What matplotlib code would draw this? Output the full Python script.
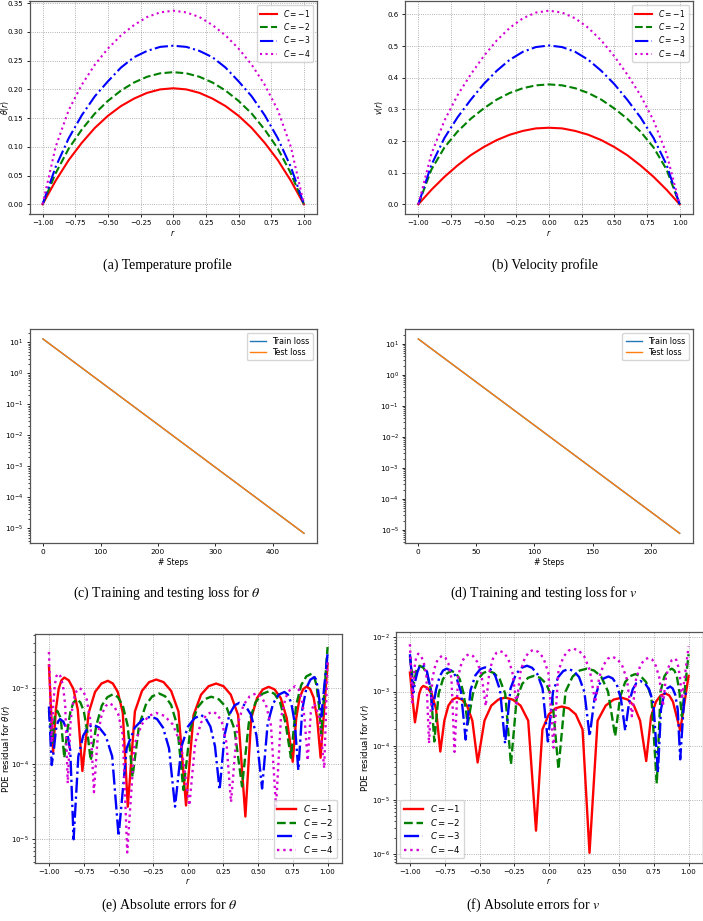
import matplotlib
matplotlib.use("Agg")
import matplotlib.pyplot as plt

W, H = 703, 921

# ---- (a)/(b) profiles, sampled at r = -1.0 ... 1.0 step 0.1
r_grid = [-1.0, -0.9, -0.8, -0.7, -0.6, -0.5, -0.4, -0.3, -0.2, -0.1, 0.0,
          0.1, 0.2, 0.3, 0.4, 0.5, 0.6, 0.7, 0.8, 0.9, 1.0]

theta_c1 = [0.0, 0.041, 0.077, 0.107, 0.133, 0.154, 0.171, 0.184, 0.194, 0.200, 0.202,
            0.200, 0.194, 0.184, 0.171, 0.154, 0.133, 0.107, 0.077, 0.041, 0.0]
theta_c2 = [0.0, 0.054, 0.097, 0.130, 0.158, 0.180, 0.198, 0.212, 0.222, 0.228, 0.230,
            0.228, 0.222, 0.212, 0.198, 0.180, 0.158, 0.130, 0.097, 0.054, 0.0]
theta_c3 = [0.0, 0.065, 0.115, 0.155, 0.188, 0.214, 0.238, 0.256, 0.267, 0.274, 0.276,
            0.274, 0.267, 0.256, 0.238, 0.214, 0.188, 0.155, 0.115, 0.065, 0.0]
theta_c4 = [0.0, 0.100, 0.164, 0.208, 0.243, 0.271, 0.294, 0.312, 0.326, 0.334, 0.337,
            0.334, 0.326, 0.312, 0.294, 0.271, 0.243, 0.208, 0.164, 0.100, 0.0]

vel_c1 = [0.0, 0.046, 0.087, 0.123, 0.155, 0.181, 0.203, 0.220, 0.232, 0.240, 0.242,
          0.240, 0.232, 0.220, 0.203, 0.181, 0.155, 0.123, 0.087, 0.046, 0.0]
vel_c2 = [0.0, 0.110, 0.180, 0.230, 0.270, 0.303, 0.331, 0.352, 0.367, 0.376, 0.379,
          0.376, 0.367, 0.352, 0.331, 0.303, 0.270, 0.230, 0.180, 0.110, 0.0]
vel_c3 = [0.0, 0.125, 0.210, 0.275, 0.330, 0.380, 0.422, 0.457, 0.482, 0.497, 0.502,
          0.497, 0.482, 0.457, 0.422, 0.380, 0.330, 0.275, 0.210, 0.125, 0.0]
vel_c4 = [0.0, 0.160, 0.265, 0.345, 0.410, 0.468, 0.518, 0.558, 0.588, 0.606, 0.612,
          0.606, 0.588, 0.558, 0.518, 0.468, 0.410, 0.345, 0.265, 0.160, 0.0]

# ---- (c)/(d) losses
steps_theta = [0, 100, 200, 300, 400, 454]
train_theta = [12.9, 0.537, 0.0223, 9.24e-4, 3.84e-5, 6.9e-6]
test_theta = [12.9, 0.537, 0.0223, 9.24e-4, 3.84e-5, 6.9e-6]

steps_vel = [0, 50, 100, 150, 200, 225]
train_vel = [14.5, 0.586, 0.0237, 9.6e-4, 3.88e-5, 7.8e-6]
test_vel = [14.5, 0.586, 0.0237, 9.6e-4, 3.88e-5, 7.8e-6]

# ---- (e) PDE residual for theta, (r, value)
res_theta_c1 = [
    (-1.0, 2.0e-3), (-0.97, 1.4e-4),
    (-0.95, 5.2e-4), (-0.93, 9.8e-4), (-0.91, 1.27e-3), (-0.89, 1.38e-3),
    (-0.858, 1.27e-3), (-0.825, 9.8e-4), (-0.793, 5.2e-4), (-0.76, 8e-5),
    (-0.714, 4.75e-4), (-0.669, 8.9e-4), (-0.623, 1.15e-3), (-0.577, 1.25e-3),
    (-0.541, 1.15e-3), (-0.506, 8.9e-4), (-0.47, 4.75e-4), (-0.434, 2.7e-5),
    (-0.383, 4.9e-4), (-0.332, 9.2e-4), (-0.281, 1.2e-3), (-0.23, 1.3e-3),
    (-0.177, 1.2e-3), (-0.123, 9.2e-4), (-0.07, 4.9e-4), (-0.016, 2.8e-5),
    (0.038, 4.4e-4), (0.092, 8.2e-4), (0.146, 1.06e-3), (0.20, 1.15e-3),
    (0.253, 1.06e-3), (0.305, 8.2e-4), (0.358, 4.4e-4), (0.41, 2.0e-5),
    (0.452, 4.0e-4), (0.494, 7.4e-4), (0.535, 9.6e-4), (0.577, 1.04e-3),
    (0.62, 9.6e-4), (0.664, 7.4e-4), (0.707, 4.0e-4), (0.75, 1.06e-4),
    (0.775, 4.0e-4), (0.80, 7.5e-4), (0.825, 9.7e-4), (0.85, 1.05e-3),
    (0.875, 9.7e-4), (0.90, 7.5e-4), (0.925, 4.0e-4), (0.95, 1.2e-4),
    (1.0, 2.1e-3)]
res_theta_c2 = [
    (-1.0, 5e-4), (-0.976, 1.9e-4), (-0.958, 4.2e-4), (-0.94, 5.0e-4), (-0.915, 4.0e-4),
    (-0.89, 1.2e-4),
    (-0.868, 2.7e-4), (-0.845, 5.0e-4), (-0.823, 6.5e-4), (-0.80, 7.1e-4),
    (-0.775, 6.5e-4), (-0.75, 5.0e-4), (-0.725, 2.7e-4), (-0.70, 1.1e-4),
    (-0.66, 3.2e-4), (-0.62, 5.9e-4), (-0.58, 7.6e-4), (-0.54, 8.3e-4),
    (-0.505, 7.6e-4), (-0.47, 5.9e-4), (-0.435, 3.2e-4), (-0.40, 6.7e-5),
    (-0.353, 3.2e-4), (-0.305, 6.0e-4), (-0.258, 7.8e-4), (-0.21, 8.5e-4),
    (-0.166, 7.8e-4), (-0.123, 6.0e-4), (-0.079, 3.2e-4), (-0.035, 4.5e-5),
    (0.015, 2.9e-4), (0.065, 5.5e-4), (0.115, 7.1e-4), (0.165, 7.7e-4),
    (0.22, 7.1e-4), (0.276, 5.5e-4), (0.331, 2.9e-4), (0.386, 5e-5),
    (0.435, 3.5e-4), (0.483, 6.5e-4), (0.532, 8.4e-4), (0.58, 9.1e-4),
    (0.619, 8.4e-4), (0.659, 6.5e-4), (0.698, 3.5e-4), (0.737, 1.2e-4),
    (0.774, 5.9e-4), (0.811, 1.1e-3), (0.848, 1.43e-3), (0.885, 1.55e-3),
    (0.903, 1.43e-3), (0.92, 1.1e-3), (0.938, 5.9e-4), (0.955, 2.5e-4),
    (1.0, 3.5e-3)]
res_theta_c3 = [
    (-1.0, 5.7e-4), (-0.98, 9.6e-5),
    (-0.965, 1.5e-4), (-0.95, 2.8e-4), (-0.935, 3.6e-4), (-0.92, 3.9e-4),
    (-0.896, 3.6e-4), (-0.872, 2.8e-4), (-0.847, 1.5e-4), (-0.823, 1.0e-5),
    (-0.789, 1.25e-4), (-0.754, 2.35e-4), (-0.72, 3.0e-4), (-0.685, 3.3e-4),
    (-0.639, 3.0e-4), (-0.593, 2.35e-4), (-0.546, 1.25e-4), (-0.50, 1.1e-5),
    (-0.442, 1.6e-4), (-0.384, 3.0e-4), (-0.325, 3.9e-4), (-0.267, 4.2e-4),
    (-0.224, 3.9e-4), (-0.181, 3.0e-4), (-0.138, 1.6e-4), (-0.095, 2.7e-5),
    (-0.048, 1.7e-4), (-0.002, 3.1e-4), (0.045, 4.0e-4), (0.092, 4.4e-4),
    (0.125, 4.0e-4), (0.159, 3.1e-4), (0.192, 1.7e-4), (0.225, 4.5e-5),
    (0.261, 2.4e-4), (0.296, 4.5e-4), (0.332, 5.9e-4), (0.367, 6.4e-4),
    (0.408, 5.9e-4), (0.449, 4.5e-4), (0.489, 2.4e-4), (0.53, 4.7e-5),
    (0.57, 3.4e-4), (0.61, 6.3e-4), (0.65, 8.2e-4), (0.69, 8.9e-4),
    (0.715, 8.2e-4), (0.74, 6.3e-4), (0.765, 3.4e-4), (0.79, 8.2e-5),
    (0.819, 5.3e-4), (0.848, 1.0e-3), (0.876, 1.29e-3), (0.905, 1.4e-3),
    (0.918, 1.3e-3), (0.93, 1.0e-3), (0.943, 6.5e-4), (0.955, 4.2e-4),
    (1.0, 2.9e-3)]
res_theta_c4 = [
    (-1.0, 3.0e-3), (-0.98, 1.9e-4),
    (-0.969, 5.9e-4), (-0.958, 1.1e-3), (-0.946, 1.44e-3), (-0.935, 1.56e-3),
    (-0.918, 1.44e-3), (-0.90, 1.1e-3), (-0.883, 5.9e-4), (-0.865, 5.5e-5),
    (-0.844, 3.8e-4), (-0.823, 7.1e-4), (-0.801, 9.2e-4), (-0.78, 1.0e-3),
    (-0.754, 9.2e-4), (-0.729, 7.1e-4), (-0.703, 3.8e-4), (-0.677, 4.2e-5),
    (-0.649, 2.4e-4), (-0.621, 4.5e-4), (-0.593, 5.8e-4), (-0.565, 6.3e-4),
    (-0.533, 5.8e-4), (-0.502, 4.5e-4), (-0.47, 2.4e-4), (-0.438, 6.7e-6),
    (-0.386, 1.8e-4), (-0.334, 3.3e-4), (-0.282, 4.3e-4), (-0.23, 4.7e-4),
    (-0.171, 4.3e-4), (-0.111, 3.3e-4), (-0.052, 1.8e-4), (0.008, 2.8e-5),
    (0.05, 1.9e-4), (0.092, 3.5e-4), (0.134, 4.5e-4), (0.176, 4.9e-4),
    (0.209, 4.5e-4), (0.242, 3.5e-4), (0.274, 1.9e-4), (0.307, 3.1e-5),
    (0.352, 3.2e-4), (0.397, 6.0e-4), (0.441, 7.8e-4), (0.486, 8.5e-4),
    (0.522, 7.8e-4), (0.558, 6.0e-4), (0.594, 3.2e-4), (0.63, 2.7e-5),
    (0.665, 4.0e-4), (0.699, 7.5e-4), (0.734, 9.8e-4), (0.768, 1.06e-3),
    (0.79, 9.8e-4), (0.813, 7.5e-4), (0.835, 4.0e-4), (0.857, 1.1e-4),
    (0.88, 4.8e-4), (0.905, 6.3e-4), (0.94, 4.2e-4), (0.976, 8.7e-5),
    (1.0, 2.3e-3)]

# ---- (f) PDE residual for v
res_vel_c1 = [
    (-1.0, 2.24e-3), (-0.964, 2.7e-4),
    (-0.949, 4.8e-4), (-0.934, 9.0e-4), (-0.919, 1.17e-3), (-0.904, 1.27e-3),
    (-0.874, 1.17e-3), (-0.843, 9.0e-4), (-0.813, 4.8e-4), (-0.782, 7.8e-5),
    (-0.753, 2.9e-4), (-0.724, 5.5e-4), (-0.694, 7.1e-4), (-0.665, 7.75e-4),
    (-0.627, 7.1e-4), (-0.59, 5.5e-4), (-0.552, 2.9e-4), (-0.514, 4.9e-5),
    (-0.465, 2.9e-4), (-0.416, 5.5e-4), (-0.366, 7.1e-4), (-0.317, 7.75e-4),
    (-0.262, 7.1e-4), (-0.206, 5.5e-4), (-0.151, 2.9e-4), (-0.095, 2.7e-6),
    (-0.049, 2.0e-4), (-0.003, 3.8e-4), (0.044, 4.9e-4), (0.09, 5.3e-4),
    (0.14, 4.9e-4), (0.19, 3.8e-4), (0.239, 2.0e-4), (0.289, 1.05e-6),
    (0.347, 2.9e-4), (0.405, 5.5e-4), (0.462, 7.1e-4), (0.52, 7.7e-4),
    (0.564, 7.1e-4), (0.608, 5.5e-4), (0.652, 2.9e-4), (0.696, 5.2e-5),
    (0.731, 3.5e-4), (0.766, 6.5e-4), (0.80, 8.5e-4), (0.835, 9.2e-4),
    (0.861, 8.5e-4), (0.888, 6.5e-4), (0.914, 3.5e-4), (0.94, 1.9e-4),
    (1.0, 1.95e-3)]
res_vel_c2 = [
    (-1.0, 4.5e-3), (-0.974, 1.27e-3), (-0.952, 2.6e-3), (-0.93, 3.0e-3),
    (-0.904, 2.76e-3), (-0.878, 2.1e-3), (-0.851, 1.15e-3), (-0.825, 1.2e-4),
    (-0.794, 9.1e-4), (-0.763, 1.7e-3), (-0.731, 2.2e-3), (-0.70, 2.4e-3),
    (-0.671, 2.2e-3), (-0.643, 1.7e-3), (-0.614, 9.1e-4), (-0.585, 2.5e-4),
    (-0.548, 9.1e-4), (-0.511, 1.7e-3), (-0.474, 2.2e-3), (-0.437, 2.4e-3),
    (-0.397, 2.2e-3), (-0.356, 1.7e-3), (-0.316, 9.1e-4), (-0.275, 4.5e-5),
    (-0.234, 7.4e-4), (-0.193, 1.4e-3), (-0.151, 1.8e-3), (-0.11, 1.95e-3),
    (-0.066, 1.8e-3), (-0.022, 1.4e-3), (0.022, 7.4e-4), (0.066, 3.7e-5),
    (0.117, 1.0e-3), (0.168, 1.9e-3), (0.219, 2.45e-3), (0.27, 2.65e-3),
    (0.321, 2.45e-3), (0.372, 1.9e-3), (0.422, 1.0e-3), (0.473, 1.5e-4),
    (0.509, 8.0e-4), (0.545, 1.5e-3), (0.581, 1.93e-3), (0.617, 2.1e-3),
    (0.656, 1.93e-3), (0.695, 1.5e-3), (0.733, 8.0e-4), (0.772, 2.0e-5),
    (0.799, 1.0e-3), (0.826, 1.9e-3), (0.853, 2.45e-3), (0.88, 2.65e-3),
    (0.898, 2.45e-3), (0.916, 1.9e-3), (0.934, 1.0e-3), (0.952, 3.5e-4),
    (1.0, 4.9e-3)]
res_vel_c3 = [
    (-1.0, 4.9e-3), (-0.976, 9.6e-4),
    (-0.961, 1.6e-3), (-0.946, 2.3e-3), (-0.931, 2.9e-3), (-0.916, 3.1e-3),
    (-0.896, 2.9e-3), (-0.877, 2.3e-3), (-0.857, 1.3e-3), (-0.837, 4.7e-4),
    (-0.812, 1.1e-3), (-0.787, 1.9e-3), (-0.762, 2.45e-3), (-0.737, 2.65e-3),
    (-0.703, 2.45e-3), (-0.669, 1.9e-3), (-0.634, 1.0e-3), (-0.60, 1.3e-4),
    (-0.565, 1.06e-3), (-0.53, 2.0e-3), (-0.495, 2.6e-3), (-0.46, 2.8e-3),
    (-0.424, 2.6e-3), (-0.389, 2.0e-3), (-0.353, 1.06e-3), (-0.317, 1.1e-4),
    (-0.278, 1.14e-3), (-0.239, 2.1e-3), (-0.199, 2.75e-3), (-0.16, 3.0e-3),
    (-0.123, 2.75e-3), (-0.085, 2.1e-3), (-0.048, 1.14e-3), (-0.01, 1.2e-4),
    (0.027, 9.9e-4), (0.064, 1.85e-3), (0.101, 2.4e-3), (0.138, 2.6e-3),
    (0.176, 2.4e-3), (0.214, 1.85e-3), (0.252, 9.9e-4), (0.29, 1.5e-4),
    (0.324, 7.2e-4), (0.358, 1.35e-3), (0.391, 1.75e-3), (0.425, 1.9e-3),
    (0.455, 1.75e-3), (0.485, 1.35e-3), (0.515, 7.2e-4), (0.545, 1.9e-4),
    (0.572, 6.0e-4), (0.599, 1.1e-3), (0.626, 1.44e-3), (0.653, 1.57e-3),
    (0.685, 1.44e-3), (0.717, 1.1e-3), (0.748, 6.0e-4), (0.78, 3.2e-5),
    (0.802, 4.7e-4), (0.824, 8.8e-4), (0.846, 1.14e-3), (0.868, 1.24e-3),
    (0.886, 1.14e-3), (0.904, 8.8e-4), (0.922, 4.7e-4), (0.94, 5.6e-5),
    (0.97, 8.5e-4), (1.0, 1.07e-3)]
res_vel_c4 = [
    (-1.0, 7.5e-3), (-0.983, 6.3e-4),
    (-0.972, 1.9e-3), (-0.962, 3.55e-3), (-0.951, 4.6e-3), (-0.94, 5.0e-3),
    (-0.921, 4.6e-3), (-0.902, 3.55e-3), (-0.882, 1.9e-3), (-0.863, 1.1e-4),
    (-0.839, 1.75e-3), (-0.815, 3.3e-3), (-0.791, 4.2e-3), (-0.767, 4.6e-3),
    (-0.745, 4.2e-3), (-0.724, 3.3e-3), (-0.702, 1.75e-3), (-0.68, 7.7e-5),
    (-0.654, 1.9e-3), (-0.628, 3.5e-3), (-0.602, 4.5e-3), (-0.576, 4.9e-3),
    (-0.546, 4.5e-3), (-0.516, 3.5e-3), (-0.486, 2.0e-3), (-0.456, 5.4e-4),
    (-0.43, 2.3e-3), (-0.405, 4.0e-3), (-0.379, 5.2e-3), (-0.353, 5.6e-3),
    (-0.324, 5.2e-3), (-0.294, 4.0e-3), (-0.265, 2.3e-3), (-0.235, 6.0e-4),
    (-0.205, 2.4e-3), (-0.175, 4.2e-3), (-0.144, 5.4e-3), (-0.114, 5.9e-3),
    (-0.078, 5.4e-3), (-0.042, 4.2e-3), (-0.006, 2.2e-3), (0.03, 9.2e-5),
    (0.066, 2.4e-3), (0.102, 4.4e-3), (0.138, 5.7e-3), (0.174, 6.2e-3),
    (0.213, 5.7e-3), (0.252, 4.4e-3), (0.291, 2.5e-3), (0.33, 6.3e-4),
    (0.36, 1.9e-3), (0.39, 3.1e-3), (0.42, 4.05e-3), (0.45, 4.4e-3),
    (0.486, 4.05e-3), (0.522, 3.1e-3), (0.557, 1.7e-3), (0.593, 3.5e-4),
    (0.623, 1.7e-3), (0.653, 3.0e-3), (0.683, 3.9e-3), (0.713, 4.2e-3),
    (0.739, 3.9e-3), (0.765, 3.0e-3), (0.79, 1.8e-3), (0.816, 5.4e-4),
    (0.837, 1.8e-3), (0.858, 2.9e-3), (0.879, 3.8e-3), (0.90, 4.1e-3),
    (0.913, 3.8e-3), (0.926, 2.9e-3), (0.939, 1.8e-3), (0.952, 7.2e-4),
    (1.0, 6.8e-3)]

c_labels = [r"$C=-1$", r"$C=-2$", r"$C=-3$", r"$C=-4$"]
colors = ["red", "green", "blue", "#d500d5"]
styles = ["-", "--", "-.", ":"]

captions = ["(a) Temperature profile", "(b) Velocity profile",
            r"(c) Training and testing loss for $\theta$",
            r"(d) Training and testing loss for $v$",
            r"(e) Absolute errors for $\theta$", r"(f) Absolute errors for $v$"]


def box(left, top, right, bottom):
    return [left / W, 1 - bottom / H, (right - left) / W, (bottom - top) / H]


def style_axes(ax, size=5.0):
    ax.tick_params(labelsize=size, length=2.5, width=0.6, pad=2)
    ax.tick_params(which="minor", length=1.5, width=0.5)
    for s in ax.spines.values():
        s.set_color("#555555")
        s.set_linewidth(0.9)


def grid(ax):
    ax.grid(True, linestyle=":", color="#999999", linewidth=0.6)


def legend(ax, loc, size):
    ax.legend(loc=loc, fontsize=size, handlelength=2.2, borderpad=0.4, labelspacing=0.3)


fig = plt.figure(figsize=(W / 100, H / 100), dpi=100)

# (a) and (b) profiles
for pos, curves, ylab, lx in [((29.5, 1, 317, 214), [theta_c1, theta_c2, theta_c3, theta_c4],
                               r"$\theta(r)$", -0.064),
                              ((405.3, 1, 692.7, 214), [vel_c1, vel_c2, vel_c3, vel_c4],
                               r"$v(r)$", -0.071)]:
    ax = fig.add_axes(box(*pos))
    for ys, lab, c, ls in zip(curves, c_labels, colors, styles):
        ax.plot(r_grid, ys, color=c, linestyle=ls, lw=1.5, label=lab)
    ax.set_xlabel(r"$r$", fontsize=5.5, labelpad=1)
    ax.set_ylabel(ylab, fontsize=5.5)
    ax.yaxis.set_label_coords(lx, 0.5)
    legend(ax, "upper right", 5.5)
    grid(ax)
    style_axes(ax)

# (c) and (d) losses
for pos, steps, tr, te in [((30, 329.3, 317, 543), steps_theta, train_theta, test_theta),
                           ((405.3, 329.3, 692.7, 543), steps_vel, train_vel, test_vel)]:
    ax = fig.add_axes(box(*pos))
    ax.plot(steps, tr, color="C0", lw=1.0, label="Train loss")
    ax.plot(steps, te, color="C1", lw=1.0, label="Test loss")
    ax.set_yscale("log")
    ax.set_xlabel("# Steps", fontsize=5.5, labelpad=2)
    ax.legend(loc="upper right", fontsize=5.8, handlelength=2.0, borderpad=0.4, labelspacing=0.3)
    style_axes(ax, 5.3)

# (e) and (f) residuals
for pos, curves, ylim, ylab, lx, loc in [
        ((35, 634, 341.5, 862.7), [res_theta_c1, res_theta_c2, res_theta_c3, res_theta_c4],
         (4.9e-6, 5.2e-3), r"PDE residual for $\theta(r)$", -0.076, "lower right"),
        ((396, 632, 702.5, 862.7), [res_vel_c1, res_vel_c2, res_vel_c3, res_vel_c4],
         (6.9e-7, 1.26e-2), r"PDE residual for $v(r)$", -0.082, "lower left")]:
    ax = fig.add_axes(box(*pos))
    for pts, lab, c, ls in zip(curves, c_labels, colors, styles):
        rr, vv = zip(*pts)
        ax.plot(rr, vv, color=c, linestyle=ls, lw=1.7, label=lab)
    ax.set_yscale("log")
    ax.set_ylim(*ylim)
    ax.set_xlabel(r"$r$", fontsize=5.5, labelpad=1)
    ax.set_ylabel(ylab, fontsize=6.2)
    ax.yaxis.set_label_coords(lx, 0.5)
    legend(ax, loc, 6.2)
    grid(ax)
    style_axes(ax, 5.0)

# captions
for (x, y), text in zip([(167, 265), (545, 265), (167, 593), (544, 593), (169, 905), (533, 905)],
                        captions):
    fig.text(x / W, 1 - y / H, text, ha="center", va="center", fontsize=10,
             family="Liberation Serif", math_fontfamily="stix")

fig.savefig("out.png", dpi=100)
